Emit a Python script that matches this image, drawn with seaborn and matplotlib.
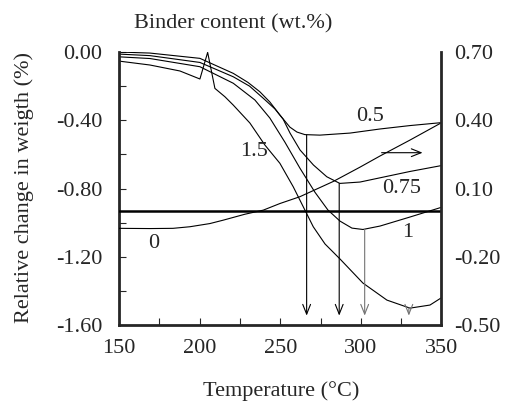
import matplotlib
matplotlib.use("Agg")
import numpy as np
import pandas as pd
import seaborn as sns
import matplotlib.pyplot as plt
from matplotlib.ticker import MultipleLocator, FormatStrFormatter

# weight change (%) vs temperature (°C)
temp_05 = [150, 169.2, 200.2, 220.9, 230.0, 237.4, 243.6, 249.8, 256.0, 260.4, 265.3,
           274.6, 293.3, 311.9, 330.5, 349.7]
wt_05 = [0.00, -0.006, -0.037, -0.125, -0.178, -0.233, -0.293, -0.369, -0.440, -0.469, -0.484,
         -0.487, -0.475, -0.451, -0.431, -0.414]

temp_075 = [150, 169.2, 200.2, 220.9, 231.0, 239.5, 246.8, 251.8, 256.1, 262.3, 270.6,
            278.9, 287.0, 299.5, 314.0, 330.5, 349.7]
wt_075 = [-0.012, -0.021, -0.061, -0.145, -0.200, -0.271, -0.334, -0.393, -0.475, -0.574, -0.662,
          -0.731, -0.770, -0.762, -0.733, -0.700, -0.666]

temp_1 = [150, 169.2, 200.2, 220.9, 234.3, 243.6, 252.9, 262.2, 271.5, 279.6,
          287.1, 294.5, 301.3, 311.9, 330.5, 349.7]
wt_1 = [-0.028, -0.038, -0.086, -0.183, -0.281, -0.387, -0.528, -0.680, -0.821, -0.926,
        -0.991, -1.032, -1.040, -1.020, -0.967, -0.911]

temp_15 = [150, 169.2, 187.8, 200.2, 205.0, 209.5, 215.7, 220.9, 231.2, 240.5,
           249.8, 258.1, 264.3, 270.5, 277.8, 287.1, 301.3, 316.2, 330.5, 342.9, 349.7]
wt_15 = [-0.053, -0.076, -0.111, -0.158, -0.002, -0.213, -0.262, -0.311, -0.416, -0.545,
         -0.652, -0.790, -0.907, -1.024, -1.125, -1.213, -1.354, -1.454, -1.501, -1.483, -1.442]

# binder-free sample, against the right axis
temp_0 = [150, 169.2, 183.5, 194.0, 206.4, 214.7, 228.1, 239.5, 249.8, 262.2,
          282.9, 299.5, 311.9, 330.5, 349.7]
wt_0 = [-0.075, -0.076, -0.075, -0.068, -0.054, -0.039, -0.013, 0.005, 0.034, 0.064,
        0.131, 0.194, 0.243, 0.313, 0.388]

# peak temperatures marked by arrows
peak_temp = [266.4, 286.6, 302.4, 329.8]
peak_wt = [-0.487, -0.770, -1.040, -1.500]
peak_color = ["black", "black", "0.45", "0.45"]

sns.set_style("ticks")
plt.rcParams["font.family"] = ["Liberation Serif", "DejaVu Serif"]
plt.rcParams["axes.unicode_minus"] = False

fig = plt.figure(figsize=(5.05, 4.05), dpi=100)
ax = fig.add_axes([0.2356, 0.1975, 0.6385, 0.674])

for t, w in [(temp_05, wt_05), (temp_075, wt_075), (temp_1, wt_1), (temp_15, wt_15)]:
    sns.lineplot(x=t, y=w, ax=ax, color="black", lw=0.8, sort=False)

ax.set_xlim(150, 350)
ax.set_ylim(-1.6, 0.0)
ax.xaxis.set_major_locator(MultipleLocator(50))
ax.xaxis.set_minor_locator(MultipleLocator(25))
ax.yaxis.set_major_locator(MultipleLocator(0.4))
ax.yaxis.set_minor_locator(MultipleLocator(0.2))
ax.yaxis.set_major_formatter(FormatStrFormatter("%.2f"))
ax.tick_params(axis="x", which="both", direction="in", length=5, width=0.8,
               labelsize=16, pad=10)
ax.tick_params(axis="y", which="both", direction="in", length=5, width=0.8,
               labelsize=16, pad=12)
ax.spines["top"].set_visible(False)
for s in ["left", "bottom"]:
    ax.spines[s].set_linewidth(2)
ax.spines["right"].set_visible(False)

ax2 = ax.twinx()
sns.lineplot(x=temp_0, y=wt_0, ax=ax2, color="black", lw=0.8)
ax2.axhline(0, color="black", lw=1.8)
ax2.set_ylim(-0.5, 0.7)
ax2.set_yticks([-0.5, -0.2, 0.1, 0.4, 0.7])
ax2.yaxis.set_major_formatter(FormatStrFormatter("%.2f"))
ax2.tick_params(axis="y", length=0, labelsize=16, pad=9)
ax2.spines["top"].set_visible(False)
ax2.spines["left"].set_visible(False)
ax2.spines["bottom"].set_visible(False)
ax2.spines["right"].set_linewidth(2)
ax2.set_ylabel("")

for x, y, c in zip(peak_temp, peak_wt, peak_color):
    ax.annotate("", xy=(x, -1.545), xytext=(x, y),
                arrowprops=dict(arrowstyle="->,head_length=0.7,head_width=0.28",
                                color=c, lw=0.8, shrinkA=0, shrinkB=0))
ax2.annotate("", xy=(338.3, 0.2575), xytext=(312.9, 0.2575),
             arrowprops=dict(arrowstyle="->,head_length=0.7,head_width=0.28",
                             color="black", lw=0.8, shrinkA=0, shrinkB=0))

for txt, x, y in [("0.5", 305.6, -0.38), ("0.75", 325.5, -0.80), ("1", 329, -1.055),
                  ("1.5", 233.7, -0.585), ("0", 171.7, -1.12)]:
    ax.text(x, y, txt, fontsize=16, ha="center", va="center")

fig.text(0.461, 0.94, "Binder content (wt.%)", fontsize=16, ha="center", va="center")
fig.text(0.048, 0.536, "Relative change in weigth (%)", fontsize=16, rotation=90,
         ha="center", va="center")
fig.text(0.556, 0.035, "Temperature (°C)", fontsize=16, ha="center", va="center")

fig.savefig("out.png", dpi=100)
